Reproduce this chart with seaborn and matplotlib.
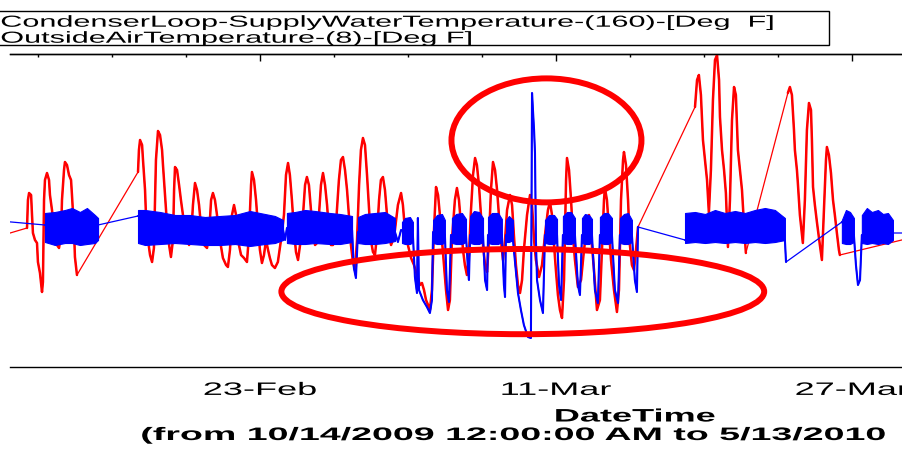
import numpy as np
import pandas as pd
import matplotlib
matplotlib.use("Agg")
import matplotlib.pyplot as plt
import matplotlib.dates as mdates
from matplotlib import patheffects
from matplotlib.patches import Ellipse, Rectangle
from matplotlib.ticker import FixedLocator, NullFormatter
from matplotlib.transforms import Affine2D
import seaborn as sns

nan = float("nan")
START = pd.Timestamp("2010-02-01")   # day 0 of the day-offset lists below

# Outside air temperature [Deg F]; nan marks a gap in the logged data
red_day = [
    7.95, nan,
    9.41, 9.46, 9.52, 9.63, 9.68, 9.73, 9.84, 9.95, 10.00, 10.11,
    10.22, 10.27, 10.33, 10.38, 10.49, 10.60, 10.65, 10.76, 10.87, 11.03,
    11.14, 11.25, 11.30, 11.41, 11.46, 11.57, 11.68, 11.79, 11.84, 11.95,
    12.00, 12.11, nan,
    15.41, 15.46, 15.52, 15.63, 15.68, 15.79, 15.84, 15.95, 16.06, 16.17,
    16.27, 16.33, 16.38, 16.49, 16.60, 16.71, 16.76, 16.87, 16.98, 17.09,
    17.19, 17.30, 17.36, 17.41, 17.52, 17.63, 17.73, 17.84, 18.00, 18.17,
    18.27, 18.38, 18.49, 18.60, 18.71, 18.81, 18.98, 19.14, 19.25, 19.36,
    19.46, 19.57, 19.68, 19.84, 20.00, 20.17, 20.27, 20.38, 20.49, 20.60,
    20.71, 20.81, 20.98, 21.14, 21.30, 21.41, 21.52, 21.57, 21.68, 21.79,
    21.89, 22.00, 22.11, 22.22, 22.33, 22.44, 22.54, 22.65, 22.81, 22.97,
    23.14, 23.30, 23.41, 23.52, 23.62, 23.73, 23.84, 23.95, 24.06, 24.17,
    24.33, 24.44, 24.54, 24.65, 24.76, 24.87, 24.98, 25.09, 25.19, 25.30,
    25.41, 25.52, 25.63, 25.73, 25.84, 25.95, 26.11, 26.27, 26.38, 26.49,
    26.60, 26.71, 26.81, 26.92, 27.03, 27.14, 27.25, 27.36, 27.46, 27.57,
    27.68, 27.79, 27.90, 28.00, 28.11, 28.22, 28.33, 28.44, 28.54, 28.65,
    28.76, 28.87, 28.98, 29.09, 29.19, 29.30, 29.46, 29.63, 29.73, 29.84,
    30.00, 30.17, 30.33, 30.49, 30.65, 30.76, 30.87, 30.98, 31.09, 31.19,
    31.30, 31.41, 31.52, 31.63, 31.73, 31.84, 31.95, 32.06, 32.17, 32.27,
    32.38, 32.54, 32.65, 32.76, 32.87, 32.98, 33.08, 33.19, 33.30, 33.41,
    33.52, 33.63, 33.73, 33.84, 33.95, 34.06, 34.17, 34.28, 34.38, 34.49,
    34.60, 34.71, 34.82, 34.92, 35.03, 35.14, 35.25, 35.36, 35.52, 35.63,
    35.73, 35.84, 35.95, 36.06, 36.17, 36.27, 36.44, 36.60, 36.71, 36.82,
    36.92, 37.09, 37.25, 37.41, 37.57, 37.68, 37.79, 37.90, 38.00, 38.11,
    38.22, 38.33, 38.44, 38.55, 38.60, 38.71, 38.82, 38.92, 39.03, 39.19,
    39.36, 39.52, 39.68, 39.79, 39.90, 40.06, 40.22, 40.38, 40.49, 40.60,
    40.65, 40.76, 40.87, 40.98, 41.14, 41.30, 41.41, 41.52, 41.63, 41.68,
    41.79, 41.90, 42.00, 42.11, 42.22, 42.33, 42.44, nan,
    45.52, 45.63, 45.73, 45.84, 45.95, 46.06, 46.17, 46.27, 46.38, 46.49,
    46.60, 46.71, 46.82, 46.87, 46.98, 47.09, 47.19, 47.30, 47.41, 47.52,
    47.63, 47.73, 47.84, 47.95, 48.06, 48.17, 48.27, nan,
    50.54, 50.65, 50.76, 50.87, 50.92, 51.03, 51.08, 51.19, 51.35, 51.46,
    51.57, 51.68, 51.79, 51.84, 51.90, 52.00, 52.11, 52.27, 52.38, 52.49,
    52.60, 52.65, 52.76, 52.87, 52.98, 53.08, 53.19, 53.30, 53.35, nan,
    57.14,
]
red_temp = [
    46.0, nan,
    48.0, 55.0, 56.75, 56.25, 51.25, 46.75, 45.0, 44.25, 39.5, 36.75,
    32.0, 34.5, 55.0, 60.0, 61.75, 60.0, 56.25, 52.5, 47.5, 43.75,
    43.0, 46.25, 55.0, 62.5, 64.5, 63.75, 61.25, 60.0, 56.25, 47.5,
    40.75, 36.25, nan,
    62.0, 67.5, 70.0, 68.75, 65.0, 57.5, 51.25, 45.0, 41.25, 39.5,
    43.0, 55.0, 65.0, 72.25, 71.25, 67.5, 63.75, 56.25, 48.75, 43.75,
    40.75, 45.0, 57.5, 63.25, 62.5, 58.75, 55.0, 51.25, 46.25, 43.75,
    45.0, 53.75, 59.25, 57.5, 53.75, 48.75, 43.75, 43.0, 46.25, 55.0,
    56.75, 55.0, 51.25, 45.0, 40.5, 38.75, 38.25, 42.5, 51.25, 53.75,
    51.25, 45.0, 41.25, 40.5, 39.5, 46.25, 58.75, 62.0, 60.0, 55.0,
    48.75, 42.5, 39.25, 41.25, 45.0, 42.5, 40.5, 38.75, 38.0, 39.5,
    45.0, 51.25, 61.25, 64.25, 61.25, 55.0, 47.5, 42.0, 40.0, 43.75,
    51.25, 58.75, 60.75, 58.75, 52.5, 46.25, 43.75, 44.25, 51.25, 58.75,
    61.75, 58.75, 53.75, 47.5, 43.75, 43.75, 48.75, 60.0, 65.0, 65.75,
    62.5, 57.5, 51.25, 43.75, 39.5, 37.5, 45.0, 58.75, 67.5, 70.5,
    68.75, 61.25, 52.5, 45.0, 42.0, 41.25, 46.25, 55.0, 60.0, 60.75,
    57.5, 51.25, 46.25, 43.75, 45.0, 47.5, 53.75, 56.75, 53.75, 47.5,
    43.75, 40.5, 38.75, 36.25, 33.75, 34.25, 32.5, 30.0, 28.75, 27.5,
    32.5, 47.5, 58.25, 56.25, 51.25, 45.0, 38.75, 32.5, 27.5, 30.0,
    45.0, 55.0, 58.0, 55.0, 48.75, 42.5, 38.75, 36.25, 41.25, 52.5,
    61.25, 65.5, 63.75, 58.75, 51.25, 43.75, 38.75, 37.0, 45.0, 57.5,
    64.5, 62.5, 57.5, 51.25, 45.0, 40.0, 45.0, 52.5, 56.25, 53.75,
    46.25, 38.75, 33.75, 31.75, 35.0, 42.5, 51.25, 56.25, 53.75, 45.0,
    40.0, 35.75, 38.75, 46.25, 52.5, 54.5, 51.25, 43.75, 37.5, 31.25,
    27.5, 25.5, 35.0, 60.0, 65.5, 62.5, 55.0, 46.25, 40.0, 33.25,
    35.0, 42.5, 48.75, 51.25, 46.25, 37.5, 27.5, 30.0, 42.5, 55.0,
    58.0, 55.0, 47.5, 40.0, 32.5, 27.0, 32.5, 55.0, 65.0, 67.0,
    63.75, 55.0, 43.75, 38.75, 37.5, 42.5, 48.25, nan,
    78.25, 85.0, 86.25, 81.25, 70.0, 65.0, 60.0, 51.75, 62.5, 80.0,
    90.0, 91.25, 85.0, 75.75, 67.5, 62.5, 56.75, 43.25, 55.0, 75.0,
    83.25, 81.25, 67.5, 62.5, 57.5, 48.75, 41.75, nan,
    81.75, 83.25, 81.25, 72.5, 67.5, 62.5, 59.25, 51.25, 44.25, 55.0,
    72.5, 79.25, 77.5, 70.0, 58.25, 53.75, 49.5, 43.75, 40.0, 52.5,
    65.0, 68.25, 66.25, 61.75, 55.0, 51.25, 46.75, 42.5, 41.25, nan,
    45.5,
]

# Condenser loop supply water temperature [Deg F]: setback dips and gaps
blue_day = [
    7.95, nan,
    10.38, 13.25, nan,
    15.41, 23.25, 23.36, 23.46, 26.98, 27.08, 27.19, 27.30, 29.30, 29.46,
    29.63, 30.27, 30.38, 30.49, 30.54, 30.60, 30.81, 31.03, 31.19, 31.30,
    31.36, 32.00, 32.11, 32.22, 32.33, 33.14, 33.25, 33.30, 33.36, 34.06,
    34.17, 34.28, 34.33, 35.08, 35.19, 35.25, 35.30, 35.68, 35.79, 35.95,
    36.11, 36.27, 36.49, 36.65, 36.71, 36.76, 36.82, 36.87, 36.92, 36.98,
    37.14, 37.30, 37.41, 38.06, 38.17, 38.28, 38.38, 39.03, 39.19, 39.30,
    39.41, 39.95, 40.11, 40.27, 40.38, 41.03, 41.19, 41.36, 41.46, 42.11,
    42.27, 42.38, 42.44, nan,
    44.98, 50.38, 50.44, nan,
    53.46, 54.11, 54.22, 54.33, 54.44, 54.54, 56.22, nan,
    57.14,
]
blue_temp = [
    49.75, nan,
    48.75, 48.75, nan,
    51.0, 47.5, 45.0, 48.0, 47.5, 38.0, 35.5, 47.0, 47.0, 44.5,
    47.5, 46.25, 35.75, 31.75, 50.5, 32.5, 30.0, 28.25, 26.75, 30.0,
    47.0, 46.25, 32.5, 29.5, 46.25, 46.25, 37.5, 35.0, 46.25, 46.25,
    35.0, 32.5, 46.25, 46.25, 33.75, 30.75, 46.25, 45.0, 39.5, 31.75,
    27.5, 23.75, 20.75, 20.5, 81.75, 77.5, 72.5, 66.75, 45.0, 35.0,
    30.0, 26.75, 46.25, 46.25, 33.75, 30.0, 46.25, 46.25, 33.75, 31.25,
    46.25, 46.25, 32.5, 29.25, 46.25, 46.25, 32.5, 29.25, 46.25, 46.25,
    35.0, 32.0, 48.25, nan,
    45.0, 45.0, 39.5, nan,
    49.5, 46.25, 38.75, 33.75, 35.0, 46.25, 46.75, nan,
    46.75,
]

# Envelope of the fast compressor cycling of the loop temperature
band_day = [
    10.38, 10.92, 11.46, 11.84, 12.27, 12.65, 13.08, 13.25, nan,
    15.41, 15.79, 16.60, 17.41, 18.22, 19.03, 19.84, 20.65, 21.46, 22.27, 22.81, 23.25, nan,
    23.46, 23.90, 24.44, 24.98, 25.79, 26.33, 26.98, nan,
    27.30, 27.68, 28.22, 28.76, 29.30, nan,
    29.68, 29.84, 30.11, 30.27, nan,
    31.36, 31.57, 31.84, 32.00, nan,
    32.38, 32.60, 32.92, 33.14, nan,
    33.36, 33.57, 33.84, 34.06, nan,
    34.33, 34.54, 34.87, 35.08, nan,
    35.30, 35.46, 35.68, nan,
    37.41, 37.63, 37.90, 38.06, nan,
    38.38, 38.60, 38.82, 39.03, nan,
    39.41, 39.57, 39.79, 39.95, nan,
    40.38, 40.60, 40.81, 41.03, nan,
    41.46, 41.68, 41.90, 42.11, nan,
    44.98, 45.52, 46.06, 46.60, 47.14, 47.68, 48.22, 48.76, 49.30, 49.84, 50.38, nan,
    53.46, 53.68, 53.90, 54.11, nan,
    54.54, 54.81, 55.08, 55.41, 55.68, 55.95, 56.22,
]
band_high = [
    51.75, 52.0, 52.5, 53.0, 52.0, 53.0, 51.25, 50.5, nan,
    52.5, 52.5, 52.0, 51.25, 51.25, 50.75, 51.0, 51.25, 52.25, 51.5, 51.0, 50.0, nan,
    51.75, 52.0, 52.5, 52.25, 51.75, 51.5, 51.0, nan,
    50.75, 51.5, 51.75, 52.0, 50.5, nan,
    49.5, 50.5, 50.75, 49.5, nan,
    50.0, 51.25, 51.5, 50.0, nan,
    50.5, 51.5, 51.75, 50.25, nan,
    51.0, 52.25, 52.0, 50.5, nan,
    50.75, 51.75, 51.75, 50.25, nan,
    50.0, 51.0, 50.0, nan,
    50.0, 51.25, 51.25, 50.25, nan,
    51.0, 52.0, 52.0, 50.5, nan,
    50.5, 51.5, 51.25, 50.25, nan,
    50.75, 51.75, 51.75, 50.5, nan,
    50.5, 51.5, 51.75, 50.0, nan,
    51.75, 52.0, 51.5, 52.5, 51.75, 52.25, 51.75, 52.5, 53.0, 52.5, 50.5, nan,
    50.0, 52.5, 52.0, 50.5, nan,
    51.25, 53.0, 52.0, 52.5, 51.5, 51.75, 50.0,
]
band_low = [
    44.5, 43.75, 44.25, 44.25, 43.75, 44.0, 44.25, 45.0, nan,
    44.25, 43.75, 44.0, 44.25, 44.0, 43.75, 43.75, 44.0, 43.5, 44.0, 44.25, 45.0, nan,
    44.25, 44.0, 44.0, 44.25, 44.0, 44.0, 44.5, nan,
    44.25, 44.0, 44.0, 44.25, 44.75, nan,
    44.25, 44.0, 44.0, 44.5, nan,
    44.25, 44.0, 44.0, 44.5, nan,
    44.25, 44.0, 44.0, 44.5, nan,
    44.25, 44.0, 44.0, 44.5, nan,
    44.25, 44.0, 44.0, 44.5, nan,
    44.5, 44.5, 45.0, nan,
    44.25, 44.0, 44.0, 44.5, nan,
    44.25, 44.0, 44.0, 44.5, nan,
    44.25, 44.0, 44.0, 44.5, nan,
    44.25, 44.0, 44.0, 44.5, nan,
    44.25, 44.0, 44.0, 44.5, nan,
    44.25, 44.5, 44.25, 44.5, 44.25, 44.5, 44.25, 44.5, 44.25, 44.5, 45.0, nan,
    44.25, 44.0, 44.0, 44.5, nan,
    44.25, 44.0, 44.25, 44.0, 44.25, 44.0, 45.0,
]

tick_dates = ["2010-02-23", "2010-03-11", "2010-03-27"]
legend_lines = ["CondenserLoop-SupplyWaterTemperature-(160)-[Deg  F]",
                "OutsideAirTemperature-(8)-[Deg F]"]
range_note = "(from 10/14/2009 12:00:00 AM to 5/13/2010"

RED = "#ff0000"
BLUE = "#0000ff"


class WideText(patheffects.AbstractPathEffect):
    """Draw text glyphs widened horizontally about their left edge or centre."""

    def __init__(self, sx, anchor="center"):
        super().__init__()
        self.sx = sx
        self.anchor = anchor

    def draw_path(self, renderer, gc, tpath, affine, rgbFace=None):
        ext = tpath.get_extents()
        x0 = ext.x0 if self.anchor == "left" else 0.5 * (ext.x0 + ext.x1)
        widen = Affine2D().translate(-x0, 0).scale(self.sx, 1).translate(x0, 0)
        renderer.draw_path(gc, tpath, widen + affine, rgbFace)


def to_frame(days, temps):
    df = pd.DataFrame({"day": days, "temp": temps})
    df["run"] = df["temp"].isna().cumsum()
    df = df.dropna().copy()
    df["time"] = START + pd.to_timedelta(df["day"], unit="D")
    return df


sns.set_style("white")
plt.rcParams["font.family"] = ["Liberation Sans", "DejaVu Sans"]

fig = plt.figure(figsize=(9.02, 4.51), dpi=100)
ax = fig.add_axes([10 / 902, 84 / 451, 892 / 902, 313 / 451])

red = to_frame(red_day, red_temp)
blue = to_frame(blue_day, blue_temp)

# thin straight lines bridge the gaps, thick lines show logged runs
sns.lineplot(data=red, x="time", y="temp", estimator=None, color=RED,
             lw=0.9, ax=ax, legend=False, zorder=2)
sns.lineplot(data=red, x="time", y="temp", units="run", estimator=None,
             color=RED, lw=1.8, ax=ax, legend=False, zorder=2.5)

band = pd.DataFrame({"day": band_day, "high": band_high, "low": band_low})
band["run"] = band["day"].isna().cumsum()
band = band.dropna()
for _, seg in band.groupby("run"):
    t = START + pd.to_timedelta(seg["day"], unit="D")
    ax.fill_between(t, seg["low"], seg["high"], color=BLUE, lw=0.8, zorder=3)

sns.lineplot(data=blue, x="time", y="temp", estimator=None, color=BLUE,
             lw=0.9, ax=ax, legend=False, zorder=4)
sns.lineplot(data=blue, x="time", y="temp", units="run", estimator=None,
             color=BLUE, lw=1.5, ax=ax, legend=False, zorder=4)

# highlight rings around the spike and the night-time dips
day0 = mdates.date2num(START)
ax.add_patch(Ellipse((day0 + 37.49, 69.9), width=10.27, height=31.0,
                     fill=False, ec=RED, lw=4.3, zorder=6))
ax.add_patch(Ellipse((day0 + 36.21, 32.1), width=26.1, height=21.3,
                     fill=False, ec=RED, lw=4.3, zorder=6))

ax.set_xlim(START + pd.Timedelta(days=8.49), START + pd.Timedelta(days=56.71))
ax.set_ylim(13.25, 91.5)
ax.set_yticks([])
ax.set_ylabel("")
for side in ("left", "right"):
    ax.spines[side].set_visible(False)
for side in ("top", "bottom"):
    ax.spines[side].set_color("black")
    ax.spines[side].set_linewidth(1)

major = mdates.date2num(pd.to_datetime(tick_dates))
minor = mdates.date2num(pd.date_range("2010-02-11", "2010-03-31", freq="4D"))
ax.xaxis.set_major_locator(FixedLocator(major))
ax.xaxis.set_minor_locator(FixedLocator(minor))
ax.xaxis.set_major_formatter(mdates.DateFormatter("%d-%b"))
ax.tick_params(axis="x", which="major", direction="inout", length=9.5,
               width=1, pad=6, labelsize=13, colors="black")
ax.tick_params(axis="x", which="minor", direction="inout", length=4.5,
               width=1, colors="black")
for lbl in ax.xaxis.get_majorticklabels():
    lbl.set_path_effects([WideText(2.0)])

top = ax.secondary_xaxis("top")
top.xaxis.set_major_locator(FixedLocator(major))
top.xaxis.set_minor_locator(FixedLocator(minor))
top.xaxis.set_major_formatter(NullFormatter())
top.tick_params(which="major", direction="in", length=5, width=1, colors="black")
top.tick_params(which="minor", direction="in", length=2.5, width=1, colors="black")
top.spines["top"].set_linewidth(1)

ax.set_xlabel("DateTime", fontsize=13, fontweight="bold", color="black",
              path_effects=[WideText(2.0)])
ax.xaxis.set_label_coords(0.7007, -0.1326)
fig.text(513.5 / 902, 11 / 451, range_note, ha="center", va="baseline",
         fontsize=13, fontweight="bold", color="black",
         path_effects=[WideText(2.08)])

# legend box across the top
fig.add_artist(Rectangle((-2 / 902, (451 - 45) / 451), 831 / 902, 34 / 451,
                         transform=fig.transFigure, fill=False,
                         ec="black", lw=1))
for text, base in zip(legend_lines, (26.7, 42.7)):
    fig.text(1 / 902, (451 - base) / 451, text, ha="left", va="baseline",
             fontsize=11.5, color="black",
             path_effects=[WideText(1.916, anchor="left")])

fig.savefig("out.png", dpi=100)
